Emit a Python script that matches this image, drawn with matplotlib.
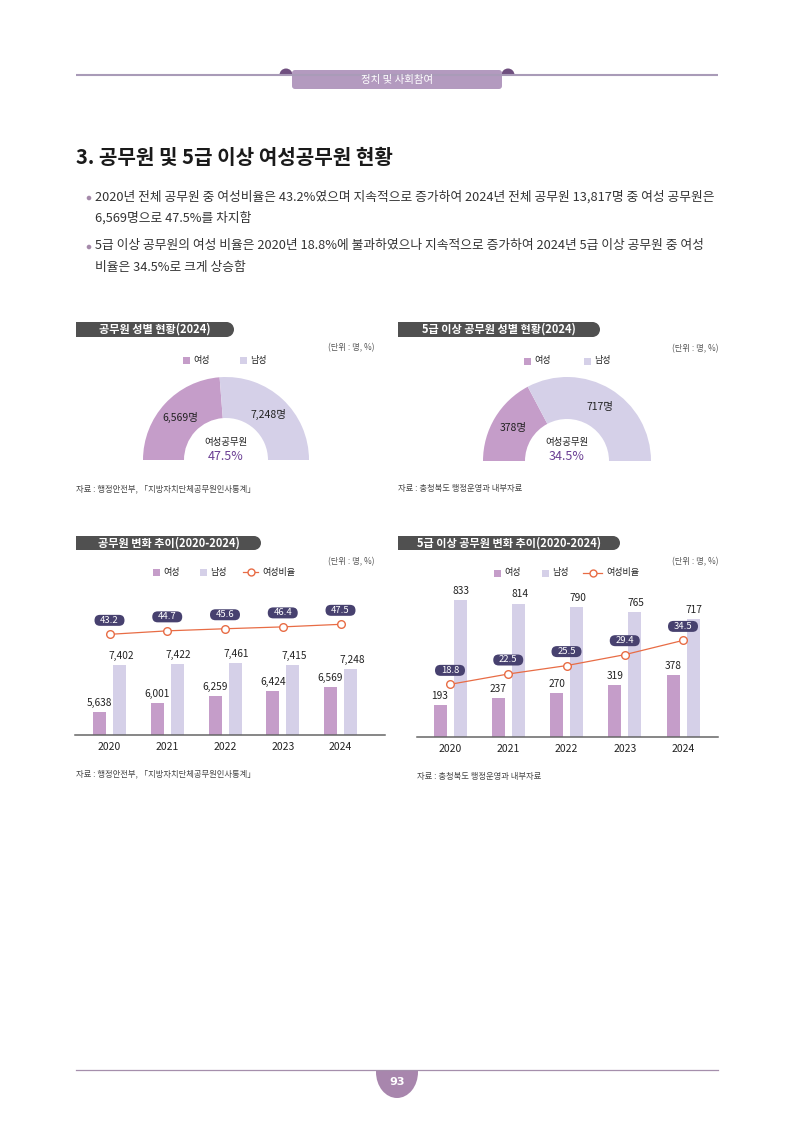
import matplotlib
matplotlib.use('Agg')
import matplotlib.pyplot as plt
from matplotlib.patches import Rectangle, Circle, Ellipse, Wedge, FancyBboxPatch
from matplotlib.lines import Line2D
from matplotlib.transforms import IdentityTransform
import numpy as np

plt.rcParams['font.family'] = ['Noto Sans CJK KR', 'DejaVu Sans']

W, H = 794, 1123

# data
years = ['2020', '2021', '2022', '2023', '2024']
all_women = [5638, 6001, 6259, 6424, 6569]
all_men = [7402, 7422, 7461, 7415, 7248]
all_rate = [43.2, 44.7, 45.6, 46.4, 47.5]
senior_women = [193, 237, 270, 319, 378]
senior_men = [833, 814, 790, 765, 717]
senior_rate = [18.8, 22.5, 25.5, 29.4, 34.5]
donut_all = [6569, 7248]
donut_senior = [378, 717]

WOMEN = '#c59dc9'
MEN = '#d5d0e8'
LINE = '#e86c45'
PILL = '#47416f'
TAB = '#505050'
TXT = '#222222'

fig = plt.figure(figsize=(W / 100, H / 100), dpi=100)
bg = fig.add_axes([0, 0, 1, 1], zorder=0)
bg.set_xlim(0, W)
bg.set_ylim(H, 0)
bg.axis('off')


def px_axes(x0, y0, x1, y1, **kw):
    return fig.add_axes([x0 / W, 1 - y1 / H, (x1 - x0) / W, (y1 - y0) / H], **kw)


# page header
bg.plot([76, 718], [75, 75], color='#a99bb8', lw=1.5, solid_capstyle='butt')
for bx in (286, 508):
    bg.add_patch(Wedge((bx, 75), 6.5, 180, 360, fc='#6f4f7f', ec='none'))
bg.add_patch(FancyBboxPatch((292, 70), 210, 19, boxstyle='round,pad=0,rounding_size=3',
                            fc='#b39abf', ec='none'))
bg.text(397, 80, '정치 및 사회참여', color='white', fontsize=7.5, ha='center', va='center')

# title and bullets
bg.text(76, 157, '3. 공무원 및 5급 이상 여성공무원 현황', fontsize=14.5, fontweight='bold',
        color='#1a1a1a', va='center')
bullets = [
    (197, '2020년 전체 공무원 중 여성비율은 43.2%였으며 지속적으로 증가하여 2024년 전체 공무원 13,817명 중 여성 공무원은', True),
    (218, '6,569명으로 47.5%를 차지함', False),
    (246, '5급 이상 공무원의 여성 비율은 2020년 18.8%에 불과하였으나 지속적으로 증가하여 2024년 5급 이상 공무원 중 여성', True),
    (268, '비율은 34.5%로 크게 상승함', False),
]
for y, line, dot in bullets:
    if dot:
        bg.add_patch(Circle((89, y + 1), 2.3, fc='#a58aaa', ec='none'))
    bg.text(95, y, line, color='#333333', fontsize=9.2, va='center')


def section_tab(x0, x1, y0, y1, label):
    h = y1 - y0
    bg.add_patch(Rectangle((x0, y0), x1 - x0 - h / 2, h, fc=TAB, ec='none'))
    bg.add_patch(Circle((x1 - h / 2, y0 + h / 2), h / 2, fc=TAB, ec='none'))
    bg.text((x0 + x1) / 2, (y0 + y1) / 2, label, color='white', fontsize=8,
            fontweight='bold', ha='center', va='center')


def unit_note(x, y):
    bg.text(x, y, '(단위 : 명, %)', color='#555555', fontsize=6, ha='right', va='center')


def legend_sq(x, y, color, label):
    bg.add_patch(Rectangle((x, y - 3.5), 7, 7, fc=color, ec='none'))
    bg.text(x + 10, y, label, color=TXT, fontsize=6.5, va='center')


def legend_line(x0, x1, y, label):
    bg.add_line(Line2D([x0, x1], [y, y], color=LINE, lw=0.9))
    bg.add_line(Line2D([(x0 + x1) / 2], [y], marker='o', ms=5, mfc='white', mec=LINE, mew=1))
    bg.text(x1 + 4, y, label, color=TXT, fontsize=6.5, va='center')


def half_donut(cx, cy, r, r_in, values):
    ax = px_axes(cx - r, cy - r, cx + r, cy + r, zorder=1)
    total = sum(values)
    ax.pie(values + [total], radius=1, startangle=180, counterclock=False,
           colors=[WOMEN, MEN, 'none'], wedgeprops=dict(width=1 - r_in / r, linewidth=0))
    ax.set_xlim(-1, 1)
    ax.set_ylim(-1, 1)
    start = 180.0
    rr = (1 + r_in / r) / 2
    for v in values:
        span = 180.0 * v / total
        mid = np.deg2rad(start - span / 2)
        ax.text(rr * np.cos(mid), rr * np.sin(mid), f'{v:,}명', ha='center', va='center',
                fontsize=7.5, color=TXT)
        start -= span
    share = 100 * values[0] / total
    bg.text(cx, cy - 18, '여성공무원', ha='center', va='center', fontsize=6.8, color=TXT)
    bg.text(cx, cy - 4, f'{share:.1f}%', ha='center', va='center', fontsize=9,
            color='#6b3f94')


def trend_chart(box, x_first, x_step, y_floor, val_px, rate_px, women, men, rate):
    x0, y0, x1, y1 = box
    ax = px_axes(x0, y0, x1, y1, zorder=1)
    ax2 = ax.twinx()
    ax2.set_zorder(ax.get_zorder() + 1)
    ax2.patch.set_visible(False)
    x = np.arange(len(years))
    off = 10 / x_step
    bw = 13 / x_step
    ax.bar(x - off, women, bw, color=WOMEN)
    ax.bar(x + off, men, bw, color=MEN)
    for i in x:
        ax.annotate(f'{women[i]:,}', (i - off, women[i]), xytext=(0, 6.5), textcoords='offset points',
                    ha='center', va='center', fontsize=7.3, color=TXT)
        ax.annotate(f'{men[i]:,}', (i + off, men[i]), xytext=(1, 6.5), textcoords='offset points',
                    ha='center', va='center', fontsize=7.3, color=TXT)
    ax.set_xlim((x0 - x_first) / x_step, (x1 - x_first) / x_step)
    ax.set_ylim(y_floor, y_floor + (y1 - y0) / val_px)
    ax2.set_ylim(0, (y1 - y0) / rate_px)
    ax.set_xticks(x)
    ax.set_xticklabels(years, fontsize=7.5, color=TXT)
    ax.tick_params(axis='x', length=0, pad=5)
    ax.set_yticks([])
    ax2.set_yticks([])
    for s in ('top', 'left', 'right'):
        ax.spines[s].set_visible(False)
        ax2.spines[s].set_visible(False)
    ax2.spines['bottom'].set_visible(False)
    ax.spines['bottom'].set_color('#666666')
    ax.spines['bottom'].set_linewidth(1.1)
    ax2.plot(x, rate, color=LINE, lw=0.9, marker='o', ms=5.5, mfc='white', mec=LINE, mew=1,
             clip_on=False)
    for i in x:
        px, py = ax2.transData.transform((i, rate[i]))
        ax2.add_artist(FancyBboxPatch((px - 15, py + 14 - 5.5), 30, 11,
                                      boxstyle='round,pad=0,rounding_size=5.5', fc=PILL, ec='none',
                                      transform=IdentityTransform(), clip_on=False, zorder=3))
        ax2.annotate(f'{rate[i]}', (i, rate[i]), xytext=(0, 10.1), textcoords='offset points',
                     ha='center', va='center', fontsize=6.8, color='white', zorder=4)
    return ax


# top-left: donut
section_tab(76, 234, 322, 337, '공무원 성별 현황(2024)')
unit_note(375, 348)
legend_sq(183, 360, WOMEN, '여성')
legend_sq(240, 360, MEN, '남성')
half_donut(226, 460, 83, 42, donut_all)
bg.text(76, 489, '자료 : 행정안전부, 「지방자치단체공무원인사통계」', fontsize=6, color='#444444', va='center')

# top-right: donut
section_tab(398, 600, 322, 337, '5급 이상 공무원 성별 현황(2024)')
unit_note(718, 349)
legend_sq(524, 361, WOMEN, '여성')
legend_sq(584, 361, MEN, '남성')
half_donut(567, 461, 84, 42, donut_senior)
bg.text(398, 489, '자료 : 충청북도 행정운영과 내부자료', fontsize=6, color='#444444', va='center')

# bottom-left: trend
section_tab(76, 261, 536, 550, '공무원 변화 추이(2020-2024)')
unit_note(375, 562)
legend_sq(153, 572, WOMEN, '여성')
legend_sq(200, 572, MEN, '남성')
legend_line(243, 258, 572, '여성비율')
trend_chart((75, 590, 385, 735), 109.5, 57.75, 4800, 0.0269, 2.33, all_women, all_men, all_rate)
bg.text(76, 774, '자료 : 행정안전부, 「지방자치단체공무원인사통계」', fontsize=6, color='#444444', va='center')

# bottom-right: trend
section_tab(398, 620, 536, 550, '5급 이상 공무원 변화 추이(2020-2024)')
unit_note(718, 562)
legend_sq(494, 573, WOMEN, '여성')
legend_sq(542, 573, MEN, '남성')
legend_line(583, 602, 573, '여성비율')
trend_chart((417, 585, 718, 737), 450, 58.25, 0, 0.164, 2.8, senior_women, senior_men, senior_rate)
bg.text(417, 777, '자료 : 충청북도 행정운영과 내부자료', fontsize=6, color='#444444', va='center')

# footer
bg.plot([76, 718], [1070, 1070], color='#a58fac', lw=0.9)
bubble = Ellipse((397, 1072), 42, 52, fc='#a886ad', ec='none')
bg.add_patch(bubble)
bubble.set_clip_path(Rectangle((300, 1070), 200, 60, transform=bg.transData))
bg.text(397, 1082, '93', color='white', fontsize=8, fontweight='bold', ha='center', va='center',
        family='DejaVu Sans')

fig.savefig('out.png', dpi=100)
